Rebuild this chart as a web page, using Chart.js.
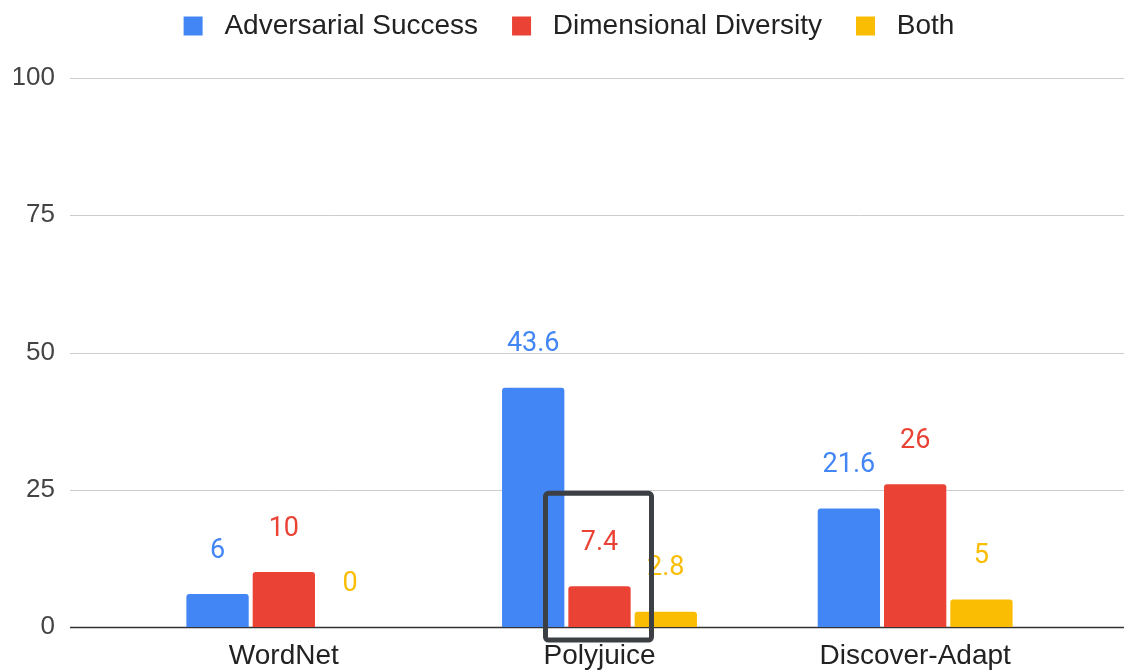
<!DOCTYPE html>
<html>
<head>
<meta charset="utf-8">
<script src="https://cdn.jsdelivr.net/npm/chart.js@4"></script>
<style>
  html, body { margin: 0; padding: 0; background: #fff; }
  #wrap { width: 1124px; height: 671px; }
</style>
</head>
<body>
<div id="wrap"><canvas id="myChart" width="1124" height="671"></canvas></div>
<script>
// chart data
var categories = ['WordNet', 'Polyjuice', 'Discover-Adapt'];
var adversarialSuccess = [6, 43.6, 21.6];
var dimensionalDiversity = [10, 7.4, 26];
var both = [0, 2.8, 5];
var seriesNames = ['Adversarial Success', 'Dimensional Diversity', 'Both'];
var seriesColors = ['#4285F4', '#EA4335', '#FBBC04'];

var FONT = "'Liberation Sans', Arial, sans-serif";
var LEGEND_H = 100;

// fixed legend height so the plot starts where it should
var legendSpace = {
    id: 'legendSpace',
    beforeInit: (chart) => {
        let fit = chart.legend.fit;
        chart.legend.fit = function() {
            fit.bind(chart.legend)();
            this.height = LEGEND_H;
        };
    }
};

// full width gridlines, like the sheets chart (from the y scale ticks)
var gridPlugin = {
    id: 'wideGrid',
    beforeDatasetsDraw: (chart) => {
        let ctx = chart.ctx;
        let y = chart.scales.y;
        ctx.save();
        y.ticks.forEach(t => {
            let py = Math.round(y.getPixelForValue(t.value)) + 0.5;
            ctx.strokeStyle = t.value === 0 ? '#333333' : '#cccccc';
            ctx.lineWidth = t.value === 0 ? 1.5 : 1;
            ctx.beginPath();
            ctx.moveTo(70, py);
            ctx.lineTo(chart.width, py);
            ctx.stroke();
        });
        ctx.restore();
    }
};

// value labels over the bars
var labelPlugin = {
    id: 'barLabels',
    afterDatasetsDraw: (chart) => {
        let ctx = chart.ctx;
        ctx.save();
        ctx.font = "27px Roboto, sans-serif";
        ctx.textAlign = 'center';
        ctx.textBaseline = 'middle';
        chart.data.datasets.forEach((ds, i) => {
            let meta = chart.getDatasetMeta(i);
            ctx.fillStyle = ds.backgroundColor;
            meta.data.forEach((bar, j) => {
                ctx.fillText(String(ds.data[j]), bar.x, bar.y - 43);
            });
        });
        ctx.restore();
    }
};

// the dark box drawn round the Polyjuice / Dimensional Diversity bar
var boxPlugin = {
    id: 'highlight',
    afterDraw: (chart) => {
        let bar = chart.getDatasetMeta(1).data[1];
        let ctx = chart.ctx;
        let x0 = bar.x - 54, x1 = bar.x + 52;
        let y0 = bar.y - 93, y1 = bar.base + 13;
        ctx.save();
        ctx.strokeStyle = '#3c3f43';
        ctx.lineWidth = 5;
        ctx.beginPath();
        ctx.roundRect(x0, y0, x1 - x0, y1 - y0, 3);
        ctx.stroke();
        ctx.restore();
    }
};

var makeSet = (i, data) => {
    return {
        label: seriesNames[i],
        data: data,
        backgroundColor: seriesColors[i],
        borderRadius: 3,
        borderSkipped: 'bottom',
        categoryPercentage: 0.63,
        barPercentage: 0.94
    };
};

new Chart('myChart', {
    type: 'bar',
    data: {
        labels: categories,
        datasets: [
            makeSet(0, adversarialSuccess),
            makeSet(1, dimensionalDiversity),
            makeSet(2, both)
        ]
    },
    options: {
        responsive: false,
        animation: false,
        layout: { padding: { top: -22, right: 0, left: 14, bottom: 0 } },
        plugins: {
            legend: {
                position: 'top',
                labels: {
                    font: { family: FONT, size: 28 },
                    color: '#222222',
                    boxWidth: 19,
                    boxHeight: 19,
                    padding: 34,
                    generateLabels: (chart) => {
                        let items = Chart.defaults.plugins.legend.labels.generateLabels(chart);
                        items.forEach(it => { it.text = ' ' + it.text; });
                        return items;
                    }
                }
            },
            tooltip: { enabled: false }
        },
        scales: {
            x: {
                afterFit: (scale) => { scale.height = 44; },
                grid: { display: false, drawTicks: false },
                border: { display: false },
                ticks: {
                    font: { family: FONT, size: 28 },
                    color: '#222222',
                    padding: 12
                }
            },
            y: {
                min: 0,
                max: 100,
                afterFit: (scale) => {
                    scale.width = 112;
                    scale.paddingTop = 0;
                    scale.paddingBottom = 0;
                },
                grid: { display: false, drawTicks: false },
                border: { display: false },
                ticks: {
                    stepSize: 25,
                    font: { family: FONT, size: 26 },
                    color: '#444444',
                    padding: 71
                }
            },
            // empty right side room, keeps the legend centred on the page
            yRight: {
                position: 'right',
                afterFit: (scale) => { scale.width = 51; },
                grid: { display: false, drawTicks: false },
                border: { display: false },
                ticks: { display: false }
            }
        }
    },
    plugins: [legendSpace, gridPlugin, labelPlugin, boxPlugin]
});
</script>
</body>
</html>
